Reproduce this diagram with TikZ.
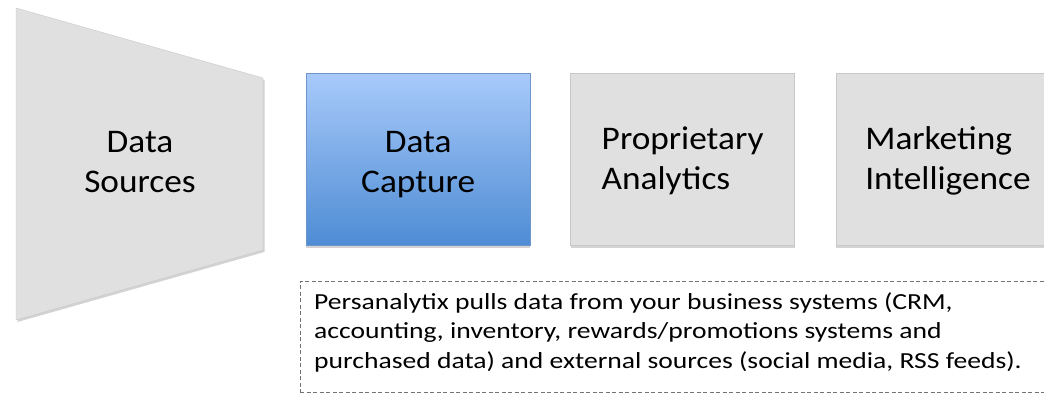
\documentclass[tikz,border=0pt]{standalone}
\usepackage{fontspec}
\setmainfont{Carlito}
\usepackage{graphicx}
\usetikzlibrary{positioning,shadows}
\definecolor{stagegray}{RGB}{224,224,224}
\definecolor{stageedge}{RGB}{200,200,200}
\definecolor{capturetop}{RGB}{168,202,250}
\definecolor{capturebot}{RGB}{78,140,212}
\definecolor{captureedge}{RGB}{110,150,205}
\newcommand{\wideline}[2][1.07]{\scalebox{#1}[1]{#2}}
\begin{document}
\begin{tikzpicture}[x=1pt,y=-1pt]
	\tikzset{stage/.style={draw=stageedge,fill=stagegray,minimum width=224pt,minimum height=172pt,
			inner sep=0pt,drop shadow={opacity=0.35,shadow xshift=0pt,shadow yshift=-2.5pt}}}
	\tikzset{stagetext/.style={inner sep=0pt,font=\fontsize{33}{40}\selectfont}}
	\tikzset{notebox/.style={draw=black!55,dash pattern=on 4pt off 2.5pt,line width=0.8pt}}
	
	% Canvas and cut-off at the right edge
	\useasboundingbox (0,0) rectangle (1044,393);
	\clip (0,0) rectangle (1044,393);
	
	% Funnel for the sources
	\draw[stageedge,fill=stagegray,drop shadow={opacity=0.35,shadow xshift=1.5pt,shadow yshift=-2pt}]
		(16,8) -- (263,78) -- (263,250) -- (16,320) -- cycle;
	\node[stagetext,align=center] (sources) at (140,162) {\wideline{Data}\\\wideline{Sources}};
	
	% The three stages
	\node[stage,draw=captureedge,top color=capturetop,bottom color=capturebot,anchor=north west]
		(capture) at (306,73) {};
	\node[stage,right=40pt of capture] (analytics) {};
	\node[stage,right=41pt of analytics] (intel) {};
	
	% Stage texts
	\node[stagetext,align=center] (capturetext) at ([yshift=-5pt]capture.center) {\wideline{Data}\\\wideline{Capture}};
	\node[stagetext,align=left] (analyticstext) at ([yshift=-2pt]analytics.center) {\wideline{Proprietary}\\\wideline{Analytics}};
	\node[stagetext,align=left] (inteltext) at ([yshift=-2pt]intel.center) {\wideline{Marketing}\\\wideline{Intelligence}};
	
	% Note under the stages
	\draw[notebox] (300,393) -- (300,281) -- (1060,281);
	\draw[notebox] (300,392) -- (1060,392);
	\node[anchor=north west,align=left,font=\fontsize{23}{29.5}\selectfont,inner sep=0pt]
		(note) at (314,292) {\wideline[1.2]{Persanalytix pulls data from your business systems (CRM,}\\
		\wideline[1.2]{accounting, inventory, rewards/promotions systems and}\\
		\wideline[1.2]{purchased data) and external sources (social media, RSS feeds).}};
\end{tikzpicture}
\end{document}
